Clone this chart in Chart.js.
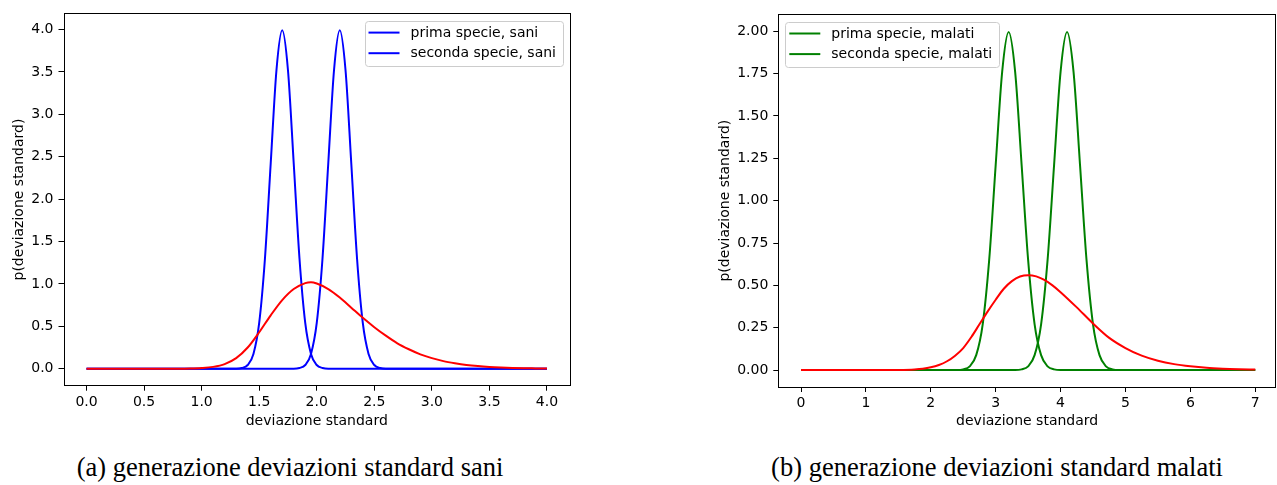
<!DOCTYPE html>
<html>
<head>
<meta charset="utf-8">
<script src="https://cdn.jsdelivr.net/npm/chart.js@4.4.0/dist/chart.umd.min.js"></script>
<style>
  html, body { margin: 0; padding: 0; background: #fff; }
  body { width: 1277px; height: 485px; position: relative; overflow: hidden; }
  canvas { position: absolute; top: 0; }
  #left { left: 0; }
  #right { left: 640px; }
  .caption {
    position: absolute; top: 451px; height: 32px; line-height: 32px;
    font-family: "Liberation Serif", serif; font-size: 26.5px; color: #000;
    text-align: center; white-space: nowrap;
  }
</style>
</head>
<body>
<canvas id="left" width="640" height="440"></canvas>
<canvas id="right" width="637" height="440"></canvas>
<div class="caption" style="left:0; width:580px;">(a) generazione deviazioni standard sani</div>
<div class="caption" style="left:717px; width:560px;">(b) generazione deviazioni standard malati</div>

<script>
// --- dati ---

// pannello (a): sani
const saniPrimaX   = [0, 1.3, 1.35, 1.4, 1.45, 1.5, 1.55, 1.6, 1.65, 1.7, 1.75, 1.8, 1.85, 1.9, 1.95, 2.0, 2.05, 2.1, 4.0];
const saniPrimaY   = [0, 0, 0.009, 0.044, 0.175, 0.54, 1.30, 2.42, 3.52, 3.99, 3.52, 2.42, 1.30, 0.54, 0.175, 0.044, 0.009, 0, 0];
const saniSecondaX = [0, 1.8, 1.85, 1.9, 1.95, 2.0, 2.05, 2.1, 2.15, 2.2, 2.25, 2.3, 2.35, 2.4, 2.45, 2.5, 2.55, 2.6, 4.0];
const saniSecondaY = [0, 0, 0.009, 0.044, 0.175, 0.54, 1.30, 2.42, 3.52, 3.99, 3.52, 2.42, 1.30, 0.54, 0.175, 0.044, 0.009, 0, 0];
const saniRossoX   = [0, 0.8, 0.9, 1.0, 1.1, 1.2, 1.3, 1.4, 1.5, 1.6, 1.7, 1.8, 1.9, 1.95, 2.0, 2.1, 2.2, 2.3, 2.4, 2.5,
                      2.6, 2.7, 2.8, 2.9, 3.0, 3.1, 3.2, 3.3, 3.4, 3.5, 3.6, 3.7, 3.8, 3.9, 4.0];
const saniRossoY   = [0, 0, 0.002, 0.008, 0.022, 0.055, 0.125, 0.25, 0.43, 0.63, 0.81, 0.94, 1.01, 1.02, 1.005, 0.94, 0.84, 0.72, 0.60, 0.49,
                      0.39, 0.30, 0.23, 0.17, 0.125, 0.09, 0.065, 0.045, 0.031, 0.021, 0.014, 0.009, 0.006, 0.004, 0.002];
const saniTickX = [0, 0.5, 1.0, 1.5, 2.0, 2.5, 3.0, 3.5, 4.0];
const saniTickY = [0, 0.5, 1.0, 1.5, 2.0, 2.5, 3.0, 3.5, 4.0];

// pannello (b): malati
const malatiPrimaX   = [0, 2.4, 2.5, 2.6, 2.7, 2.8, 2.9, 3.0, 3.1, 3.2, 3.3, 3.4, 3.5, 3.6, 3.7, 3.8, 3.9, 4.0, 7];
const malatiPrimaY   = [0, 0, 0.004, 0.022, 0.088, 0.27, 0.65, 1.21, 1.76, 1.995, 1.76, 1.21, 0.65, 0.27, 0.088, 0.022, 0.004, 0, 0];
const malatiSecondaX = [0, 3.3, 3.4, 3.5, 3.6, 3.7, 3.8, 3.9, 4.0, 4.1, 4.2, 4.3, 4.4, 4.5, 4.6, 4.7, 4.8, 4.9, 7];
const malatiSecondaY = [0, 0, 0.004, 0.022, 0.088, 0.27, 0.65, 1.21, 1.76, 1.995, 1.76, 1.21, 0.65, 0.27, 0.088, 0.022, 0.004, 0, 0];
const malatiRossoX   = [0, 1.25, 1.5, 1.75, 1.875, 2.0, 2.125, 2.25, 2.375, 2.5, 2.625, 2.75, 2.875, 3.0, 3.125, 3.25, 3.375, 3.5,
                        3.625, 3.75, 3.875, 4.0, 4.25, 4.5, 4.75, 5.0, 5.25, 5.5, 5.75, 6.0, 6.25, 6.5, 6.75, 7.0];
const malatiRossoY   = [0, 0, 0.0008, 0.004, 0.008, 0.016, 0.03, 0.052, 0.085, 0.13, 0.195, 0.27, 0.345, 0.415, 0.48, 0.525, 0.552, 0.56,
                        0.553, 0.532, 0.5, 0.46, 0.37, 0.275, 0.19, 0.13, 0.085, 0.055, 0.035, 0.022, 0.013, 0.008, 0.005, 0.003];
const malatiTickX = [0, 1, 2, 3, 4, 5, 6, 7];
const malatiTickY = [0, 0.25, 0.5, 0.75, 1.0, 1.25, 1.5, 1.75, 2.0];

const FONT = { family: 'DejaVu Sans', size: 14 };

function punti(xs, ys) {
    return xs.map((x, i) => ({ x: x, y: ys[i] }));
}

function serie(label, xs, ys, color, order) {
    return {
        label: label,
        data: punti(xs, ys),
        borderColor: color,
        borderWidth: 2,
        pointRadius: 0,
        fill: false,
        cubicInterpolationMode: 'monotone',
        order: order
    };
}

// cornice + legenda stile matplotlib
const cornice = {
    id: 'cornice',
    afterDatasetsDraw(chart, args, opts) {
        const ctx = chart.ctx;
        const a = chart.chartArea;
        ctx.save();
        ctx.strokeStyle = '#000';
        ctx.lineWidth = 1;
        ctx.strokeRect(Math.round(a.left) + 0.5, Math.round(a.top) + 0.5,
                       Math.round(a.right - a.left) - 1, Math.round(a.bottom - a.top));

        // legenda
        const voci = chart.data.datasets.filter(d => d.label);
        ctx.font = FONT.size + 'px ' + FONT.family;
        let tw = 0;
        voci.forEach(v => { tw = Math.max(tw, ctx.measureText(v.label).width); });
        const w = 4 + 31 + 11 + tw + 7;
        const h = 45;
        const x0 = opts.side === 'right' ? a.right - 7 - w : a.left + 7;
        const y0 = a.top + 7.5;

        ctx.beginPath();
        ctx.roundRect(Math.round(x0) + 0.5, Math.round(y0) + 0.5, Math.round(w), h, 3);
        ctx.fillStyle = 'rgba(255,255,255,0.8)';
        ctx.fill();
        ctx.strokeStyle = '#cccccc';
        ctx.stroke();

        voci.forEach((v, i) => {
            const yy = y0 + 11.7 + i * 20.6;
            ctx.beginPath();
            ctx.moveTo(x0 + 4, yy);
            ctx.lineTo(x0 + 35, yy);
            ctx.strokeStyle = v.borderColor;
            ctx.lineWidth = 2;
            ctx.stroke();
            ctx.fillStyle = '#000';
            ctx.textBaseline = 'middle';
            ctx.fillText(v.label, x0 + 46, yy + 0.5);
        });
        ctx.restore();
    }
};

function grafico(id, cfg) {
    new Chart(document.getElementById(id), {
        type: 'line',
        data: { datasets: cfg.datasets },
        plugins: [cornice],
        options: {
            responsive: false,
            animation: false,
            events: [],
            layout: { padding: cfg.padding },
            plugins: {
                legend: { display: false },
                tooltip: { enabled: false },
                cornice: { side: cfg.legendSide }
            },
            scales: {
                x: {
                    type: 'linear',
                    min: cfg.xMin, max: cfg.xMax,
                    afterBuildTicks: s => { s.ticks = cfg.xTicks.map(v => ({ value: v })); },
                    afterFit: s => { s.height = cfg.xHeight; },
                    ticks: {
                        font: FONT, color: '#000', padding: 3, maxRotation: 0,
                        callback: v => v.toFixed(cfg.xDec)
                    },
                    grid: { display: true, drawOnChartArea: false, drawTicks: true, tickLength: 5, color: '#000', lineWidth: 1 },
                    border: { display: false },
                    title: { display: true, text: 'deviazione standard', font: FONT, color: '#000' }
                },
                y: {
                    min: cfg.yMin, max: cfg.yMax,
                    afterBuildTicks: s => { s.ticks = cfg.yTicks.map(v => ({ value: v })); },
                    afterFit: s => { s.width = cfg.yWidth; },
                    ticks: {
                        font: FONT, color: '#000', padding: 5,
                        callback: v => v.toFixed(cfg.yDec)
                    },
                    grid: { display: true, drawOnChartArea: false, drawTicks: true, tickLength: 5, color: '#000', lineWidth: 1 },
                    border: { display: false },
                    title: { display: true, text: 'p(deviazione standard)', font: FONT, color: '#000' }
                }
            }
        }
    });
}

grafico('left', {
    datasets: [
        serie('prima specie, sani', saniPrimaX, saniPrimaY, '#0000ff', 2),
        serie('seconda specie, sani', saniSecondaX, saniSecondaY, '#0000ff', 1),
        serie('', saniRossoX, saniRossoY, '#ff0000', 0)
    ],
    padding: { left: 7, top: 7.5, right: 70, bottom: 5.8 },
    xHeight: 48.5, yWidth: 56.5,
    xMin: -0.2, xMax: 4.2, yMin: -0.2, yMax: 4.19,
    xTicks: saniTickX, yTicks: saniTickY, xDec: 1, yDec: 1,
    legendSide: 'right'
});

grafico('right', {
    datasets: [
        serie('prima specie, malati', malatiPrimaX, malatiPrimaY, '#008000', 2),
        serie('seconda specie, malati', malatiSecondaX, malatiSecondaY, '#008000', 1),
        serie('', malatiRossoX, malatiRossoY, '#ff0000', 0)
    ],
    padding: { left: 72.8, top: 14.3, right: 1, bottom: 5.8 },
    xHeight: 47.2, yWidth: 65.5,
    xMin: -0.35, xMax: 7.32, yMin: -0.1, yMax: 2.1,
    xTicks: malatiTickX, yTicks: malatiTickY, xDec: 0, yDec: 2,
    legendSide: 'left'
});
</script>
</body>
</html>
